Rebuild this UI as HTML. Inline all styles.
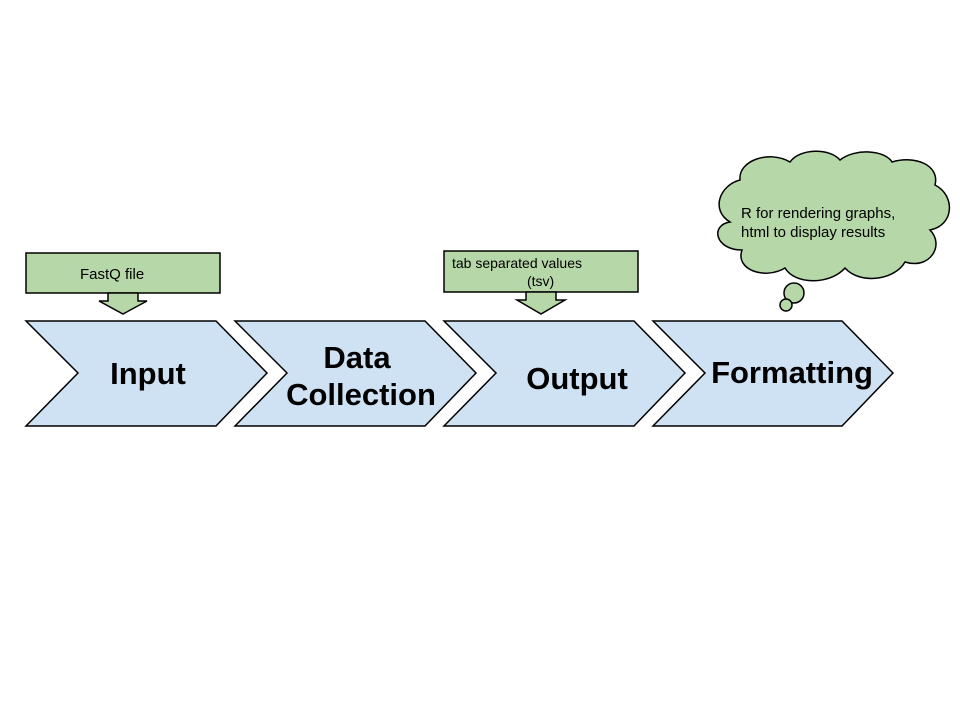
<!DOCTYPE html>
<html><head><style>body{margin:0;background:#fff}</style></head><body>
<svg width="960" height="720" xmlns="http://www.w3.org/2000/svg" font-family="Liberation Sans, sans-serif">
<g fill="#cfe2f3" stroke="#000" stroke-width="1.5">
<polygon points="26,321 216,321 267,373 216,426 26,426 78,373"/>
<polygon points="235,321 425,321 476,373 425,426 235,426 287,373"/>
<polygon points="444,321 634,321 685,373 634,426 444,426 496,373"/>
<polygon points="653,321 842,321 893,373 842,426 653,426 705,373"/>
</g>
<g fill="#b6d7a8" stroke="#000" stroke-width="1.5">
<rect x="26" y="253" width="194" height="40"/>
<polygon points="108,293 138,293 138,301 147,301 123,314 99,301 108,301"/>
<rect x="444" y="251" width="194" height="41"/>
<polygon points="526,292 556,292 556,300 565,300 541,314 517,300 526,300"/>
<path d="M740,180 C738,160 770,150 790,162 C800,148 830,148 840,160 C855,148 885,150 892,162 C915,155 940,165 935,185 C955,195 955,225 930,230 C945,245 930,270 905,262 C895,280 860,285 845,268 C830,285 795,285 785,268 C765,280 735,270 742,250 C715,250 710,225 730,222 C710,210 720,185 740,180 Z"/>
<circle cx="794" cy="293" r="10"/>
<circle cx="786" cy="305" r="6"/>
</g>
<g font-weight="bold" font-size="31" text-anchor="middle" fill="#000">
<text x="148" y="384">Input</text>
<text x="357" y="368">Data</text>
<text x="361" y="405">Collection</text>
<text x="577" y="389">Output</text>
<text x="792" y="383">Formatting</text>
</g>
<g font-size="15" fill="#000">
<text x="80" y="279">FastQ file</text>
<text x="452" y="268" font-size="14">tab separated values</text>
<text x="527" y="286" font-size="14">(tsv)</text>
<text x="741" y="218">R for rendering graphs,</text>
<text x="741" y="237">html to display results</text>
</g>
</svg>
</body></html>
